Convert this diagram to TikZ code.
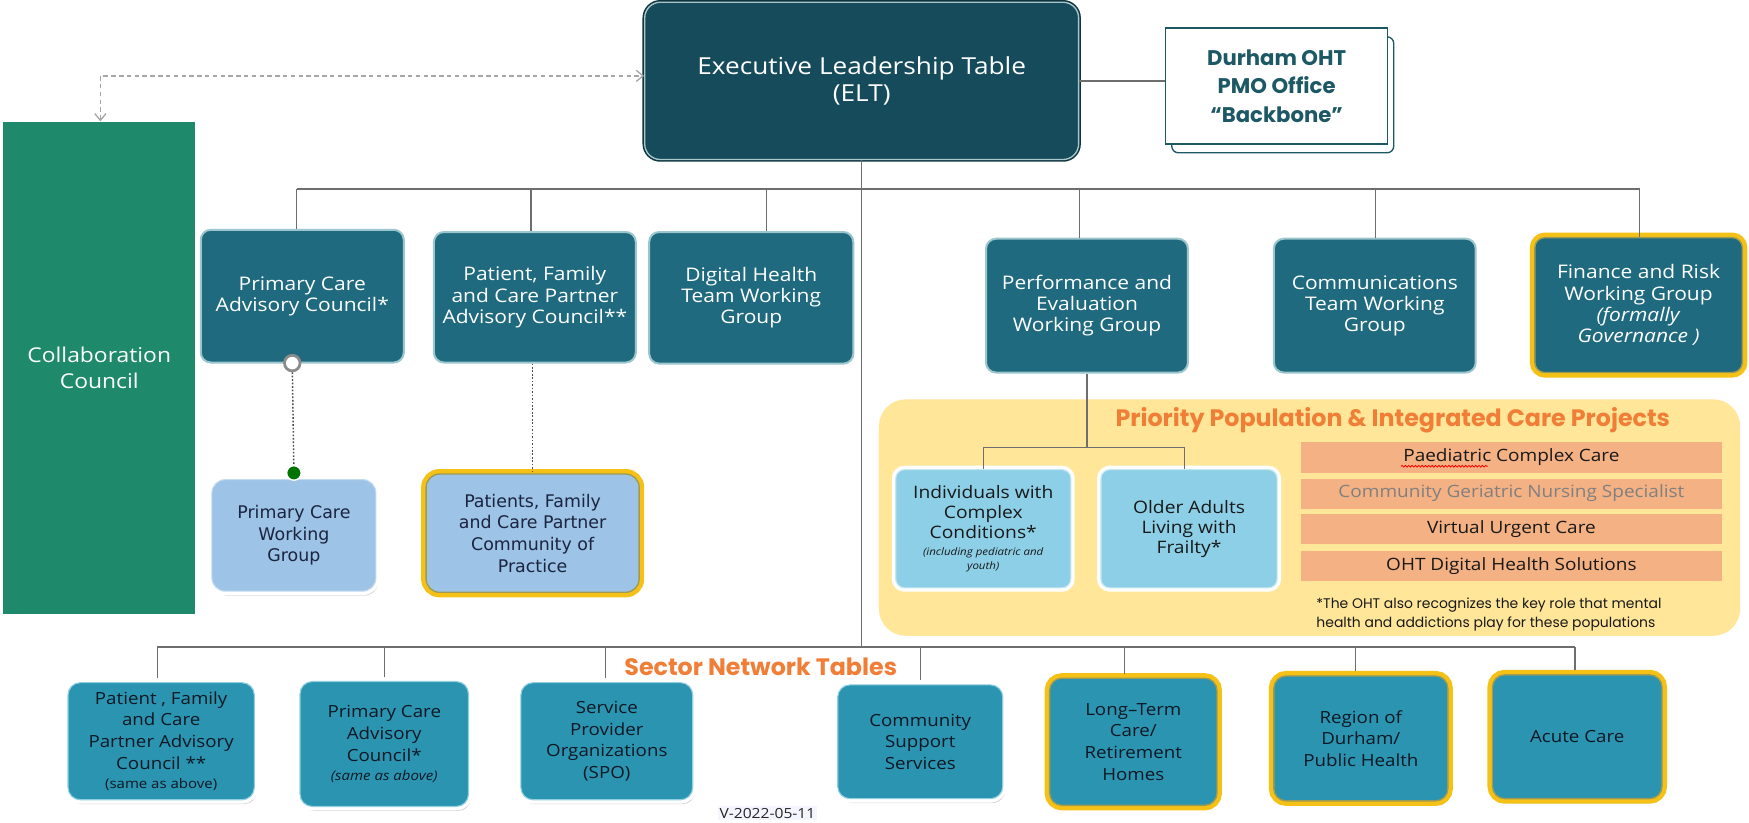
\documentclass[tikz,border=0pt]{standalone}
\usepackage{fontspec}
\usetikzlibrary{arrows.meta,shadows,decorations.pathmorphing,calc}
\newfontfamily\os[FakeStretch=1.12]{Open Sans}
\newfontfamily\dv{DejaVu Sans}
\newfontfamily\pp{Poppins}
\newcommand\fELT{\os\fontsize{21}{24}\selectfont}
\newcommand\fRow{\os\fontsize{16.8}{19}\selectfont}
\newcommand\fCol{\os\fontsize{18.3}{23}\selectfont}
\newcommand\fWG{\dv\fontsize{15.6}{19.5}\selectfont}
\newcommand\fPri{\os\fontsize{15.4}{18}\selectfont}
\newcommand\fBar{\os\fontsize{15.2}{18}\selectfont}
\newcommand\fBot{\os\fontsize{15}{19.5}\selectfont}
\newcommand\fPMO{\pp\bfseries\fontsize{19}{25.5}\selectfont}
\newcommand\fTitle{\pp\bfseries\fontsize{21.3}{24}\selectfont}
\newcommand\fNote{\pp\fontsize{12.5}{16.5}\selectfont}
\definecolor{eltfill}{HTML}{154B5B}
\definecolor{eltedge}{HTML}{A9C8CB}
\definecolor{rowfill}{HTML}{1F6A7F}
\definecolor{rowedge}{HTML}{9CC6CD}
\definecolor{collab}{HTML}{1F8A6B}
\definecolor{wgblue}{HTML}{9DC3E6}
\definecolor{wgedge}{HTML}{C3DAF0}
\definecolor{sky}{HTML}{8CCFE6}
\definecolor{skyedge}{HTML}{C5E8F2}
\definecolor{botfill}{HTML}{2A94B1}
\definecolor{botedge}{HTML}{8FCFDF}
\definecolor{goldc}{HTML}{F6C117}
\definecolor{olivec}{HTML}{9C9A55}
\definecolor{ybg}{HTML}{FFE699}
\definecolor{orangec}{HTML}{F07E36}
\definecolor{salmon}{HTML}{F4B183}
\definecolor{linec}{HTML}{6E6E6E}
\definecolor{pmoc}{HTML}{1D5865}
\definecolor{navyc}{HTML}{1B2440}
\definecolor{darktext}{HTML}{0E1822}
\begin{document}
\begin{tikzpicture}[x=1pt,y=-1pt,
  conn/.style={draw=linec, line width=1.2pt},
  busline/.style={draw=linec, line width=1.8pt},
  dotc/.style={draw=black!70, line width=1.3pt, dash pattern=on 1.5pt off 1.6pt},
  dasharrow/.style={draw=black!35, line width=1.2pt, dash pattern=on 4pt off 3pt,
     {Straight Barb[length=6pt,width=10pt]}-{Straight Barb[length=6pt,width=10pt]}},
  eltbox/.style={rounded corners=14pt, fill=eltfill, preaction={draw=eltfill!70!black, line width=4pt},
     draw=eltedge, line width=1.2pt, text=white, font=\fELT, align=center, inner sep=0pt},
  pmobox/.style={fill=white, draw=pmoc, line width=1.2pt, text=pmoc, font=\fPMO, align=center, inner sep=0pt},
  rowbox/.style={rounded corners=9pt, fill=rowfill, draw=rowedge, line width=1.8pt,
     text=white, font=\fRow, align=center, inner sep=0pt},
  goldrow/.style={rowbox, preaction={draw=goldc, line width=9pt}, draw=olivec, line width=1.2pt},
  wgbox/.style={rounded corners=12pt, fill=wgblue, drop shadow={shadow xshift=2pt, shadow yshift=-4pt, opacity=0.3},
     preaction={draw=white, line width=7pt}, draw=wgedge, line width=1pt,
     text=navyc, font=\fWG, align=center, inner sep=0pt},
  goldwg/.style={wgbox, preaction={draw=goldc, line width=9pt}, draw=olivec, line width=1.2pt},
  pribox/.style={rounded corners=8pt, fill=sky, preaction={draw=white, line width=7pt}, draw=skyedge, line width=1pt,
     text=black!90, font=\fPri, align=center, inner sep=0pt},
  barbox/.style={fill=salmon, minimum width=378pt, inner sep=0pt, font=\fBar, text=black!90},
  botbox/.style={rounded corners=11pt, fill=botfill, drop shadow={shadow xshift=2pt, shadow yshift=-4pt, opacity=0.3},
     preaction={draw=white, line width=7pt}, draw=botedge, line width=1pt,
     text=darktext, font=\fBot, align=center, inner sep=0pt},
  goldbot/.style={botbox, preaction={draw=goldc, line width=9pt}, draw=olivec, line width=1.2pt},
  ttl/.style={text=orangec, font=\fTitle, inner sep=0pt}
]
\useasboundingbox[fill=white] (0,0) rectangle (1568,737);

% priority background
\node[fill=ybg, rounded corners=24pt, minimum width=772pt, minimum height=212pt, inner sep=0pt] (prio) at (1174,464) {};

% top nodes
\node[eltbox, minimum width=389pt, minimum height=141pt] (elt) at (772.5,72.5) {Executive Leadership Table\\(ELT)};
\node[pmobox, rounded corners=6pt, minimum width=199pt, minimum height=104pt] (pmoshadow) at (1150,85) {};
\node[pmobox, minimum width=199pt, minimum height=104pt] (pmo) at (1144.5,77) {Durham OHT\\PMO Office\\“Backbone”};
\node[fill=collab, minimum width=172pt, minimum height=441pt, inner sep=0pt, text=white, font=\fCol, align=center] (collab) at (89,329.5) {Collaboration\\Council};

% row 1
\node[rowbox, minimum width=182pt, minimum height=119pt] (pcac) at (271,265.5) {Primary Care\\Advisory Council*};
\node[rowbox, minimum width=181pt, minimum height=117pt] (pfcac) at (479.5,266.5) {Patient, Family\\and Care Partner\\Advisory Council**};
\node[rowbox, minimum width=183pt, minimum height=118pt] (dh) at (673.5,267) {Digital Health\\Team Working\\Group};
\node[rowbox, minimum width=181pt, minimum height=120pt] (pe) at (974.5,274) {Performance and\\Evaluation\\Working Group};
\node[rowbox, minimum width=181pt, minimum height=120pt] (comm) at (1232.5,274) {Communications\\Team Working\\Group};
\node[goldrow, minimum width=186pt, minimum height=121pt] (fin) at (1469,273.5) {Finance and Risk\\Working Group\\\textit{(formally}\\\textit{Governance )}};

% connectors top
\coordinate (bt) at (0,169.5);
\draw[busline] ([xshift=-5pt]pcac.north |- bt) -- ([xshift=1pt]fin.north |- bt);
\foreach \n/\s in {pcac/-5,pfcac/-3.5,dh/13.5,pe/-6.5,comm/0.5,fin/1}
  \draw[conn] ([xshift=\s pt]\n.north) -- ([xshift=\s pt]\n.north |- bt);
\coordinate (bb) at (0,580);
\draw[conn] (elt.south) -- (elt.south |- bb);
\draw[conn] (elt.east) -- (elt.east -| pmo.west);
\coordinate (dashx) at (90,68);
\draw[dasharrow] (dashx |- collab.north) |- (elt.west |- dashx);

% working groups
\node[wgbox, minimum width=147pt, minimum height=100pt] (wg) at (263.5,480) {Primary Care\\Working\\Group};
\node[goldwg, minimum width=191pt, minimum height=106pt] (cop) at (477.5,478) {Patients, Family\\and Care Partner\\Community of\\Practice};
\node[circle, fill=white, draw=black!45, line width=2.5pt, minimum size=14pt, inner sep=0pt] (pcring) at (262,325.5) {};
\node[circle, fill=green!45!black, draw=white, line width=1.2pt, minimum size=13pt, inner sep=0pt] (pcgreen) at (263.5,424) {};
\draw[dotc] (pcring) -- (pcgreen);
\draw[dotc] ([xshift=-2pt]pfcac.south) -- ([xshift=-2pt]pfcac.south |- cop.north);

% priority content
\node[ttl] (ptitle) at (1248.6,376.5) {Priority Population \& Integrated Care Projects};
\node[pribox, minimum width=157pt, minimum height=106pt] (ind) at (881.5,474) {Individuals with\\Complex\\Conditions*\\[-3pt]{\fontsize{9.2}{11}\selectfont\itshape (including pediatric and}\\[-5pt]{\fontsize{9.2}{11}\selectfont\itshape youth)}};
\node[pribox, minimum width=158pt, minimum height=106pt] (older) at (1066,474) {Older Adults\\Living with\\Frailty*};
\coordinate (pb) at (0,401);
\draw[conn] (pe.south) -- (pe.south |- pb);
\draw[conn] (ind.north |- pb) -- ([xshift=-4pt]older.north |- pb);
\draw[conn] (ind.north) -- (ind.north |- pb);
\draw[conn] ([xshift=-4pt]older.north) -- ([xshift=-4pt]older.north |- pb);
\node[barbox, minimum height=28pt] (bar1) at (1355,410) {Paediatric Complex Care};
\node[barbox, minimum height=27pt, text=black!50] (bar2) at (1355,442.5) {Community Geriatric Nursing Specialist};
\node[barbox, minimum height=27pt] (bar3) at (1355,474.5) {Virtual Urgent Care};
\node[barbox, minimum height=27pt] (bar4) at (1355,507.5) {OHT Digital Health Solutions};
\draw[red, line width=0.7pt, decorate, decoration={snake, amplitude=0.8pt, segment length=3pt}] (1256,418) -- (1334,418);
\node[font=\fNote, text=black!90, align=left, anchor=west, inner sep=0pt] (note) at (1180,551) {*The OHT also recognizes the key role that mental\\health and addictions play for these populations};

% bottom row
\node[botbox, minimum width=167pt, minimum height=105pt] (b1) at (144.5,664.5) {Patient , Family\\and Care\\Partner Advisory\\Council **\\[-2pt]{\fontsize{12}{14}\selectfont (same as above)}};
\node[botbox, minimum width=151pt, minimum height=112pt] (b2) at (344.5,667) {Primary Care\\Advisory\\Council*\\[-2pt]{\fontsize{12}{14}\selectfont\itshape (same as above)}};
\node[botbox, minimum width=154pt, minimum height=105pt] (b3) at (544,664.5) {Service\\Provider\\Organizations\\(SPO)};
\node[botbox, minimum width=148pt, minimum height=102pt] (b4) at (825,665) {Community\\Support\\Services};
\node[goldbot, minimum width=150pt, minimum height=114pt] (b5) at (1016,665) {Long–Term\\Care/\\Retirement\\Homes};
\node[goldbot, minimum width=156pt, minimum height=112pt] (b6) at (1220,662) {Region of\\Durham/\\Public Health};
\node[goldbot, minimum width=152pt, minimum height=111pt] (b7) at (1414,660.5) {Acute Care};
\draw[conn] ([xshift=-3.5pt]b1.north |- bb) -- ([xshift=-2pt]b7.north |- bb);
\foreach \n/\s in {b1/-3.5,b2/0,b3/-1,b4/0,b5/-8,b6/-5,b7/-2}
  \draw[conn] ([xshift=\s pt]\n.north) ++(0,-3.5) -- ([xshift=\s pt]\n.north |- bb);
\node[ttl] (sector) at (682,597.7) {Sector Network Tables};
\node[fill=blue!4, font=\os\fontsize{12.5}{14}\selectfont, text=black!85, inner sep=1.5pt] (ver) at (688,729) {V-2022-05-11};
\end{tikzpicture}
\end{document}
